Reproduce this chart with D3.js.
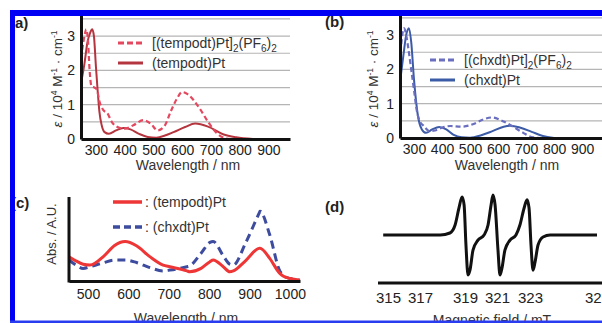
<!DOCTYPE html>
<html>
<head>
<meta charset="utf-8">
<script src="https://cdn.jsdelivr.net/npm/d3@7"></script>
<style>
  body { margin: 0; background: #fff; }
  svg { display: block; font-family: "Liberation Sans", Arial, sans-serif; }
  .tick text { fill: #222; }
</style>
</head>
<body>
<div id="chart"></div>
<script>
// (a) tempodt complexes, wavelength in nm, epsilon in 10^4 M-1 cm-1
const tempodtDimerNm = [252, 260, 266, 272, 278, 284, 295, 303, 312, 325, 340, 355, 375, 400, 430, 465, 490, 515, 540, 560, 580, 600, 620, 660, 690, 717, 750, 770];
const tempodtDimerEps = [2.6, 3.0, 3.2, 2.9, 2.0, 1.55, 1.5, 1.45, 1.1, 0.85, 0.75, 0.5, 0.35, 0.3, 0.4, 0.55, 0.45, 0.25, 0.4, 0.8, 1.15, 1.37, 1.3, 0.9, 0.5, 0.2, 0.02, 0];
const tempodtNm = [248, 260, 270, 280, 287, 293, 300, 306, 312, 320, 330, 345, 370, 395, 420, 450, 480, 510, 540, 570, 610, 645, 690, 742, 788, 846];
const tempodtEps = [1.63, 2.2, 2.8, 3.1, 3.2, 3.0, 2.1, 1.4, 0.8, 0.4, 0.2, 0.15, 0.25, 0.32, 0.28, 0.15, 0.06, 0.04, 0.1, 0.2, 0.35, 0.45, 0.36, 0.14, 0.05, 0];

// (b) chxdt complexes
const chxdtDimerNm = [252, 258, 265, 272, 280, 290, 300, 310, 320, 335, 355, 375, 400, 430, 470, 510, 550, 580, 610, 650, 690, 720, 750];
const chxdtDimerEps = [2.5, 3.0, 3.2, 3.0, 2.6, 2.0, 1.4, 0.8, 0.5, 0.35, 0.2, 0.22, 0.3, 0.35, 0.33, 0.4, 0.55, 0.6, 0.52, 0.35, 0.15, 0.03, 0];
const chxdtNm = [250, 262, 272, 282, 290, 300, 313, 328, 343, 365, 390, 415, 440, 470, 500, 540, 580, 620, 645, 680, 720, 760, 800];
const chxdtEps = [1.63, 2.4, 3.0, 3.2, 2.8, 1.7, 0.7, 0.25, 0.15, 0.25, 0.32, 0.25, 0.1, 0.02, 0.01, 0.08, 0.2, 0.33, 0.36, 0.3, 0.18, 0.06, 0];

// (c) solid state absorption, arbitrary units
const absNm = [453, 470, 488, 505, 540, 565, 592, 620, 653, 686, 703, 745, 752, 780, 802, 810, 835, 851, 860, 890, 925, 926, 950, 975, 983, 1000, 1025];
const absTempodt = [0.29, 0.24, 0.2, 0.19, 0.3, 0.42, 0.47, 0.42, 0.29, 0.19, 0.17, 0.12, 0.11, 0.15, 0.23, 0.25, 0.17, 0.11, 0.12, 0.24, 0.39, 0.39, 0.27, 0.09, 0.06, 0.03, 0.01];
const absChxdt = [0.25, 0.19, 0.15, 0.17, 0.22, 0.25, 0.25, 0.22, 0.16, 0.12, 0.13, 0.17, 0.18, 0.33, 0.46, 0.47, 0.3, 0.2, 0.19, 0.45, 0.82, 0.83, 0.55, 0.12, 0.07, 0.03, 0.01];

// (d) EPR, field in mT
const eprField = [314.7, 317.9, 318.33, 318.56, 318.73, 318.87, 318.96, 319.06, 319.19, 319.31, 319.5, 319.81, 320.19, 320.44, 320.63, 320.75, 320.88, 321.06, 321.18, 321.3, 321.48, 321.79, 322.15, 322.39, 322.64, 322.82, 322.94, 323.03, 323.09, 323.15, 323.24, 323.39, 323.6, 325.0];
const eprSignal = [0, 0, 0.05, 0.25, 0.67, 0.95, 0.75, -0.25, -1, -0.88, -0.38, -0.13, 0, 0.25, 0.75, 1, 0.75, -0.38, -1, -0.83, -0.38, -0.13, 0, 0.25, 0.67, 0.88, 0.68, -0.25, -0.88, -0.68, -0.25, -0.05, 0, 0];

const uvTicks = [300, 400, 500, 600, 700, 800, 900];
const epsTicks = [0, 1, 2, 3];
const gridTicks = [0.5, 1, 1.5, 2, 2.5, 3, 3.5];
const absTicks = [500, 600, 700, 800, 900, 1000];
const fieldTicks = [315, 317, 319, 321, 323, 325];

const zip = (xs, ys) => xs.map((v, i) => [v, ys[i]]);

const svg = d3.select('#chart').append('svg')
    .attr('width', 602)
    .attr('height', 323);

function lineFor(x, y) {
    return d3.line().x(d => x(d[0])).y(d => y(d[1])).curve(d3.curveMonotoneX);
}

function subLabel(t, parts) {
    // parts: [text, isSub, dy]
    parts.forEach(p => {
        t.append('tspan')
            .text(p[0])
            .attr('font-size', p[1] ? 10 : 14)
            .attr('dy', p[1] ? 4 : (p[2] || 0));
    });
}

function epsLabel(x, y) {
    svg.append('text')
        .attr('transform', 'translate(' + x + ',' + y + ') rotate(-90)')
        .attr('text-anchor', 'middle')
        .attr('font-size', 13.5)
        .attr('fill', '#333')
        .html('<tspan font-style="italic">ε</tspan> / 10<tspan font-size="8.5" dy="-5">4</tspan><tspan dy="5"> M</tspan><tspan font-size="8.5" dy="-5">-1</tspan><tspan dy="5"> · cm</tspan><tspan font-size="8.5" dy="-5">-1</tspan>');
}

function uvPanel(opt) {
    const x = d3.scaleLinear().domain(opt.xDomain).range(opt.xRange);
    const y = d3.scaleLinear().domain([0, 3.6]).range([opt.base, opt.base - 3.6 * 34.3]);
    const g = svg.append('g');

    g.append('g').selectAll('line')
        .data(gridTicks)
        .enter().append('line')
        .attr('x1', opt.xRange[0]).attr('x2', opt.xRange[1])
        .attr('y1', d => y(d)).attr('y2', d => y(d))
        .attr('stroke', '#b5b5b5')
        .attr('stroke-width', 1.2);

    const line = lineFor(x, y);
    g.append('path').datum(zip(opt.monoNm, opt.monoEps))
        .attr('d', line).attr('fill', 'none')
        .attr('stroke', opt.solid).attr('stroke-width', 2);
    g.append('path').datum(zip(opt.dimerNm, opt.dimerEps))
        .attr('d', line).attr('fill', 'none')
        .attr('stroke', opt.dashed).attr('stroke-width', 2.2)
        .attr('stroke-dasharray', '5,3');

    const xAxis = g.append('g')
        .attr('transform', 'translate(0,' + opt.base + ')')
        .call(d3.axisBottom(x).tickValues(uvTicks).tickSize(0).tickSizeOuter(0).tickPadding(6));
    xAxis.select('.domain').attr('stroke', '#111').attr('stroke-width', 3);
    xAxis.selectAll('text').attr('font-size', 14).attr('font-family', 'Liberation Sans, Arial');

    const yAxis = g.append('g')
        .attr('transform', 'translate(' + opt.xRange[0] + ',0)')
        .call(d3.axisLeft(y).tickValues(epsTicks).tickFormat(d3.format('d')).tickSize(0).tickSizeOuter(0).tickPadding(6));
    yAxis.select('.domain').attr('stroke', '#111').attr('stroke-width', 3);
    yAxis.selectAll('text').attr('font-size', 14).attr('font-family', 'Liberation Sans, Arial');

    // legend
    const lx = opt.legend[0], ly = opt.legend[1];
    g.append('line').attr('x1', lx).attr('x2', lx + 25).attr('y1', ly).attr('y2', ly)
        .attr('stroke', opt.dashed).attr('stroke-width', 3).attr('stroke-dasharray', '6,3');
    g.append('line').attr('x1', lx).attr('x2', lx + 25).attr('y1', ly + 20).attr('y2', ly + 20)
        .attr('stroke', opt.solid).attr('stroke-width', 3);
    const t1 = g.append('text').attr('x', lx + 34).attr('y', ly + 5).attr('fill', '#333');
    subLabel(t1, [[opt.dimerName, false], ['2', true], ['(PF', false, -4], ['6', true], [')', false, -4], ['2', true]]);
    g.append('text').attr('x', lx + 34).attr('y', ly + 25).attr('fill', '#333')
        .attr('font-size', 14).text(opt.monoName);

    g.append('text').attr('x', opt.xLabel).attr('y', 170)
        .attr('text-anchor', 'middle').attr('font-size', 14).attr('fill', '#333')
        .text('Wavelength / nm');
}

uvPanel({
    xDomain: [248, 975], xRange: [81, 290], base: 139,
    dimerNm: tempodtDimerNm, dimerEps: tempodtDimerEps,
    monoNm: tempodtNm, monoEps: tempodtEps,
    dashed: '#e4485f', solid: '#b5353f',
    legend: [118, 43], dimerName: '[(tempodt)Pt]', monoName: '(tempodt)Pt',
    xLabel: 188
});
uvPanel({
    xDomain: [250, 971], xRange: [400, 602], base: 138,
    dimerNm: chxdtDimerNm, dimerEps: chxdtDimerEps,
    monoNm: chxdtNm, monoEps: chxdtEps,
    dashed: '#6a6ebf', solid: '#3c5ba6',
    legend: [430, 60], dimerName: '[(chxdt)Pt]', monoName: '(chxdt)Pt',
    xLabel: 507
});
epsLabel(62, 79);
epsLabel(378, 79);

// (c)
{
    const x = d3.scaleLinear().domain([453, 1025]).range([69, 300]);
    const y = d3.scaleLinear().domain([0, 1]).range([281, 197]);
    const line = lineFor(x, y);
    svg.append('path').datum(zip(absNm, absChxdt))
        .attr('d', line).attr('fill', 'none')
        .attr('stroke', '#3d4c9e').attr('stroke-width', 3).attr('stroke-dasharray', '8,5');
    svg.append('path').datum(zip(absNm, absTempodt))
        .attr('d', line).attr('fill', 'none')
        .attr('stroke', '#ee3636').attr('stroke-width', 3);

    const xAxis = svg.append('g').attr('transform', 'translate(0,281)')
        .call(d3.axisBottom(x).tickValues(absTicks).tickFormat(d3.format('d')).tickSize(0).tickSizeOuter(0).tickPadding(8));
    xAxis.select('.domain').attr('stroke', '#111').attr('stroke-width', 3);
    xAxis.selectAll('text').attr('font-size', 14).attr('font-family', 'Liberation Sans, Arial');
    svg.append('line').attr('x1', 69).attr('x2', 69).attr('y1', 197).attr('y2', 282.5)
        .attr('stroke', '#111').attr('stroke-width', 3);

    svg.append('line').attr('x1', 113).attr('x2', 142).attr('y1', 202).attr('y2', 202)
        .attr('stroke', '#ee3636').attr('stroke-width', 3.5);
    svg.append('line').attr('x1', 113).attr('x2', 142).attr('y1', 227).attr('y2', 227)
        .attr('stroke', '#3d4c9e').attr('stroke-width', 3.5).attr('stroke-dasharray', '7,4');
    svg.append('text').attr('x', 145).attr('y', 207).attr('font-size', 14).attr('fill', '#333').text(': (tempodt)Pt');
    svg.append('text').attr('x', 145).attr('y', 232).attr('font-size', 14).attr('fill', '#333').text(': (chxdt)Pt');

    svg.append('text')
        .attr('transform', 'translate(56,234) rotate(-90)')
        .attr('text-anchor', 'middle').attr('font-size', 13).attr('fill', '#333')
        .text('Abs. / A.U.');
    svg.append('text').attr('x', 186).attr('y', 323)
        .attr('text-anchor', 'middle').attr('font-size', 14).attr('fill', '#333')
        .text('Wavelength / nm');
}

// (d)
{
    const x = d3.scaleLinear().domain([315, 317, 319, 321, 323, 325]).range([388, 420, 465, 497, 530, 597]);
    const y = d3.scaleLinear().domain([-1, 1]).range([275, 195]);
    svg.append('path').datum(zip(eprField, eprSignal))
        .attr('d', lineFor(x, y)).attr('fill', 'none')
        .attr('stroke', '#111').attr('stroke-width', 3).attr('stroke-linejoin', 'round');
    const xAxis = svg.append('g').attr('transform', 'translate(0,283)')
        .call(d3.axisBottom(x).tickValues(fieldTicks).tickSize(0).tickSizeOuter(0).tickPadding(9));
    xAxis.select('.domain').attr('d', 'M378,0H602').attr('stroke', '#111').attr('stroke-width', 3);
    xAxis.selectAll('text').attr('font-size', 15).attr('font-family', 'Liberation Sans, Arial');
    svg.append('text').attr('x', 492).attr('y', 325)
        .attr('text-anchor', 'middle').attr('font-size', 14).attr('fill', '#333')
        .text('Magnetic field / mT');
}

// panel letters
[['(a)', 10, 28], ['(b)', 325, 27], ['(c)', 11, 208], ['(d)', 325, 212]].forEach(p => {
    svg.append('text').attr('x', p[1]).attr('y', p[2])
        .attr('font-size', 15).attr('font-weight', 'bold').attr('fill', '#222').text(p[0]);
});

// blue frame
svg.append('rect').attr('x', 0).attr('y', 0).attr('width', 602).attr('height', 10).attr('fill', '#fff');
svg.append('rect').attr('x', 10).attr('y', 10).attr('width', 592).attr('height', 6).attr('fill', '#0000f5');
svg.append('rect').attr('x', 10).attr('y', 10).attr('width', 5).attr('height', 313).attr('fill', '#0000f5');
svg.append('rect').attr('x', 10).attr('y', 320.5).attr('width', 592).attr('height', 2.5).attr('fill', '#2a3cf0');
</script>
</body>
</html>
